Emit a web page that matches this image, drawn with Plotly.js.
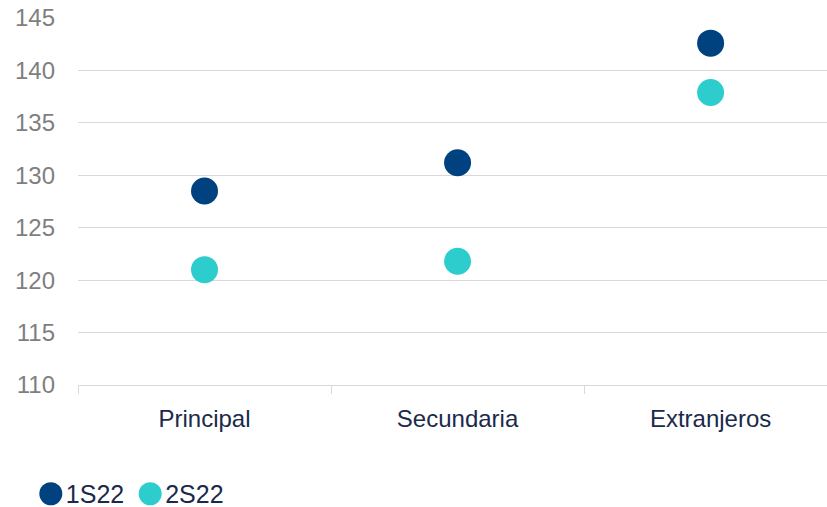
<!DOCTYPE html>
<html>
<head>
<meta charset="utf-8">
<script src="https://cdn.plot.ly/plotly-3.0.1.min.js"></script>
<style>html,body{margin:0;padding:0;background:#fff;}#chart{width:827px;height:507px;}</style>
</head>
<body>
<div id="chart"></div>
<script>
var categories = ["Principal", "Secundaria", "Extranjeros"];
var series1Name = "1S22";
var series1Values = [128.5, 131.2, 142.6];
var series2Name = "2S22";
var series2Values = [121.0, 121.8, 137.9];
var yTickValues = [110, 115, 120, 125, 130, 135, 140, 145];

var FONT = "Liberation Sans, Arial, sans-serif";
var traces = [
  {type: "scatter", mode: "markers", name: series1Name, x: categories, y: series1Values,
   marker: {color: "#00427F", size: 27}},
  {type: "scatter", mode: "markers", name: series2Name, x: categories, y: series2Values,
   marker: {color: "#2ECDCD", size: 27}}
];
var layout = {
  width: 827, height: 507,
  margin: {l: 78, r: 0, t: 18, b: 122, autoexpand: false},
  paper_bgcolor: "#fff", plot_bgcolor: "#fff",
  showlegend: true,
  legend: {orientation: "h", x: -0.063, xanchor: "left", y: -0.297, yanchor: "middle",
           font: {family: FONT, size: 25, color: "#1B2A4A"}, itemwidth: 30, tracegroupgap: 0,
           bgcolor: "rgba(0,0,0,0)"},
  xaxis: {type: "category", range: [-0.5, 2.46], showgrid: false, zeroline: false,
          showline: true, linecolor: "#D9D9D9", linewidth: 1,
          ticks: "outside", tickson: "boundaries", ticklen: 8, tickcolor: "#D9D9D9",
          ticklabelstandoff: 12,
          tickfont: {family: FONT, size: 24, color: "#1B2A4A"}, fixedrange: true},
  yaxis: {range: [110, 145], tickvals: yTickValues, showgrid: true, gridcolor: "#D9D9D9", gridwidth: 1,
          zeroline: false, showline: false, ticks: "", ticklabelstandoff: 22,
          tickfont: {family: FONT, size: 24, color: "#7F7F7F"}, fixedrange: true}
};
Plotly.newPlot("chart", traces, layout, {displayModeBar: false, staticPlot: true}).then(function (gd) {
  // enlarge legend symbols and tighten spacing to match the reference
  var r = 11.5;
  var d = "M" + r + ",0A" + r + "," + r + " 0 1,1 0,-" + r + "A" + r + "," + r + " 0 0,1 " + r + ",0Z";
  gd.querySelectorAll(".legend .legendpoints path.scatterpts").forEach(function (p) {
    p.setAttribute("d", d);
  });
  gd.querySelectorAll(".legend text.legendtext").forEach(function (t) {
    t.setAttribute("x", 35);
  });
  var items = gd.querySelectorAll(".legend g.traces");
  items.forEach(function (g, i) {
    if (i === 0) return;
    var tr = g.getAttribute("transform") || "";
    var m = tr.match(/translate\(\s*([-\d.]+)[ ,]+([-\d.]+)\s*\)/);
    if (m) g.setAttribute("transform", "translate(" + (parseFloat(m[1]) - 4 * i) + "," + m[2] + ")");
  });
});
</script>
</body>
</html>
